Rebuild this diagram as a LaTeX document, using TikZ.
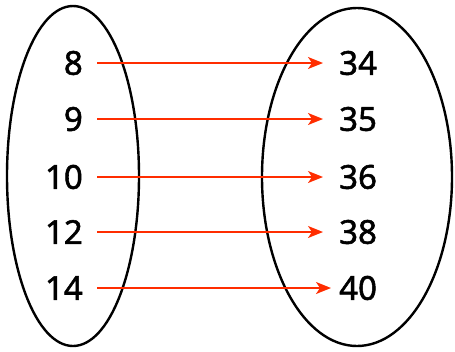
\documentclass[tikz,border=0pt]{standalone}
\usepackage{fontspec}
\setmainfont{Noto Sans}
\newfontfamily\numfont[FakeBold=1.6]{Noto Sans}
\usepackage{tikz}
\usetikzlibrary{arrows.meta}
\definecolor{maparrow}{RGB}{255,45,0}

\tikzset{
    lnum/.style={anchor=east, inner xsep=14pt, inner ysep=0pt, font=\numfont\fontsize{33}{33}\selectfont},
    rnum/.style={anchor=west, inner xsep=16pt, inner ysep=0pt, font=\numfont\fontsize{33}{33}\selectfont},
    maps/.style={maparrow, line width=1.8pt, -{Stealth[length=15pt,width=12pt,inset=4pt]}}
}

\begin{document}
\begin{tikzpicture}[x=1pt,y=-1pt]
        \useasboundingbox (0,0) rectangle (455,351);

        \draw[line width=2.4pt] (73,176) ellipse (66pt and 170pt);
        \draw[line width=2.4pt] (357,177) ellipse (95pt and 169pt);

        \node[lnum] (a8) at (97,63) {8};
        \node[lnum] (a9) at (97,119) {9};
        \node[lnum] (a10) at (97,177) {10};
        \node[lnum] (a12) at (97,232) {12};
        \node[lnum] (a14) at (97,288) {14};

        \node[rnum] (b34) at (323,63) {34};
        \node[rnum] (b35) at (323,119) {35};
        \node[rnum] (b36) at (323,177) {36};
        \node[rnum] (b38) at (323,232) {38};
        \node[rnum] (b40) at (323,288) {40};

        \draw[maps] (a8.east) -- (b34.west);
        \draw[maps] (a9.east) -- (b35.west);
        \draw[maps] (a10.east) -- (b36.west);
        \draw[maps] (a12.east) -- (b38.west);
        \draw[maps, shorten >=-8pt] (a14.east) -- (b40.west);
    \end{tikzpicture}
\end{document}
